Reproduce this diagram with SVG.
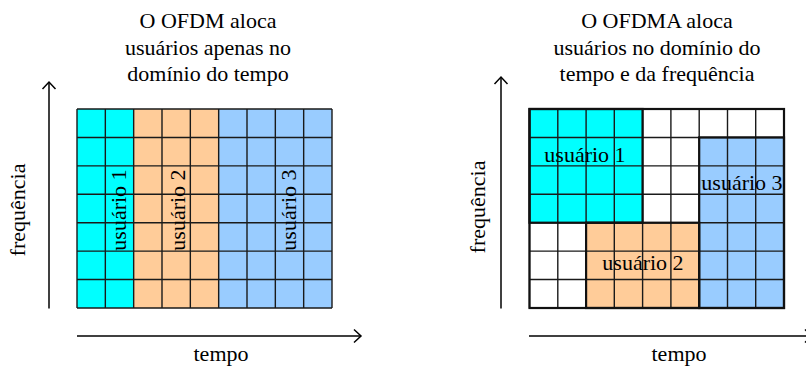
<svg xmlns="http://www.w3.org/2000/svg" width="806" height="367" viewBox="0 0 806 367">
  <style>
    text { font-family: "Liberation Serif", "Times New Roman", serif; font-size: 22px; fill: #000; }
    .mid { text-anchor: middle; }
    .cyan { fill: #00FFFF; }
    .orange { fill: #FFCC99; }
    .blue { fill: #99CCFF; }
    .white { fill: #FFFFFF; }
    .grid { fill: none; stroke: #1a1a1a; stroke-width: 1.4; }
    .region { fill: none; stroke: #111; stroke-width: 2.2; }
    .axis { fill: none; stroke: #000; stroke-width: 1.5; }
  </style>
  <defs>
    <marker id="arrow" markerUnits="userSpaceOnUse" markerWidth="20" markerHeight="20" viewBox="-10 -10 20 20" refX="0" refY="0" orient="auto" overflow="visible">
      <path d="M -7 -6.5 L 0 0 L -7 6.5" fill="none" stroke="#000" stroke-width="1.5"/>
    </marker>
  </defs>

  <!-- Titles -->
  <g id="title-ofdm">
    <text class="mid" x="208" y="28">O OFDM aloca</text>
    <text class="mid" x="208" y="54.5">usuários apenas no</text>
    <text class="mid" x="208" y="81">domínio do tempo</text>
  </g>
  <g id="title-ofdma">
    <text class="mid" x="657" y="28">O OFDMA aloca</text>
    <text class="mid" x="657" y="54.5">usuários no domínio do</text>
    <text class="mid" x="657" y="81">tempo e da frequência</text>
  </g>

  <!-- OFDM: users split along time -->
  <g id="ofdm-user1">
    <rect class="cyan" x="77" y="109" width="56.67" height="199"/>
  </g>
  <g id="ofdm-user2">
    <rect class="orange" x="133.67" y="109" width="85" height="199"/>
  </g>
  <g id="ofdm-user3">
    <rect class="blue" x="218.67" y="109" width="113.33" height="199"/>
  </g>
  <g id="ofdm-grid">
    <path class="grid" d="M77 109V308 M105.33 109V308 M133.67 109V308 M162 109V308 M190.33 109V308 M218.67 109V308 M247 109V308 M275.33 109V308 M303.67 109V308 M332 109V308
      M77 109H332 M77 137.43H332 M77 165.86H332 M77 194.29H332 M77 222.71H332 M77 251.14H332 M77 279.57H332 M77 308H332"/>
  </g>
  <g id="ofdm-labels">
    <text class="mid" x="126" y="210" transform="rotate(-90 126 210)">usuário 1</text>
    <text class="mid" x="185" y="210" transform="rotate(-90 185 210)">usuário 2</text>
    <text class="mid" x="296" y="210" transform="rotate(-90 296 210)">usuário 3</text>
  </g>

  <!-- OFDMA: users split along time and frequency -->
  <g id="ofdma-free">
    <rect class="white" x="529.5" y="109" width="254.5" height="199"/>
  </g>
  <g id="ofdma-user1">
    <rect class="cyan" x="529.5" y="109" width="113.1" height="113.71"/>
  </g>
  <g id="ofdma-user2">
    <rect class="orange" x="586.1" y="222.71" width="113.1" height="85.29"/>
  </g>
  <g id="ofdma-user3">
    <rect class="blue" x="699.2" y="137.43" width="84.8" height="170.57"/>
  </g>
  <g id="ofdma-grid">
    <path class="grid" d="M529.5 109V308 M557.8 109V308 M586.1 109V308 M614.3 109V308 M642.6 109V308 M670.9 109V308 M699.2 109V308 M727.5 109V308 M755.7 109V308 M784 109V308
      M529.5 109H784 M529.5 137.43H784 M529.5 165.86H784 M529.5 194.29H784 M529.5 222.71H784 M529.5 251.14H784 M529.5 279.57H784 M529.5 308H784"/>
    <rect class="region" x="529.5" y="109" width="113.1" height="113.71"/>
    <rect class="region" x="586.1" y="222.71" width="113.1" height="85.29"/>
    <rect class="region" x="699.2" y="137.43" width="84.8" height="170.57"/>
    <rect class="region" x="529.5" y="109" width="254.5" height="199"/>
  </g>
  <g id="ofdma-labels">
    <text class="mid" x="585" y="162">usuário 1</text>
    <text class="mid" x="643" y="270">usuário 2</text>
    <text class="mid" x="742" y="190">usuário 3</text>
  </g>

  <!-- Axes -->
  <g id="connectors">
    <path class="axis" d="M49 308.5V82" marker-end="url(#arrow)"/>
    <path class="axis" d="M77 336H361" marker-end="url(#arrow)"/>
    <path class="axis" d="M501 308.5V77" marker-end="url(#arrow)"/>
    <path class="axis" d="M529 336H812" marker-end="url(#arrow)"/>
  </g>

  <!-- Axis labels -->
  <g id="axis-labels">
    <text class="mid" x="25" y="210" transform="rotate(-90 25 210)">frequência</text>
    <text class="mid" x="221" y="361">tempo</text>
    <text class="mid" x="485" y="207" transform="rotate(-90 485 207)">frequência</text>
    <text class="mid" x="679" y="361">tempo</text>
  </g>
</svg>
